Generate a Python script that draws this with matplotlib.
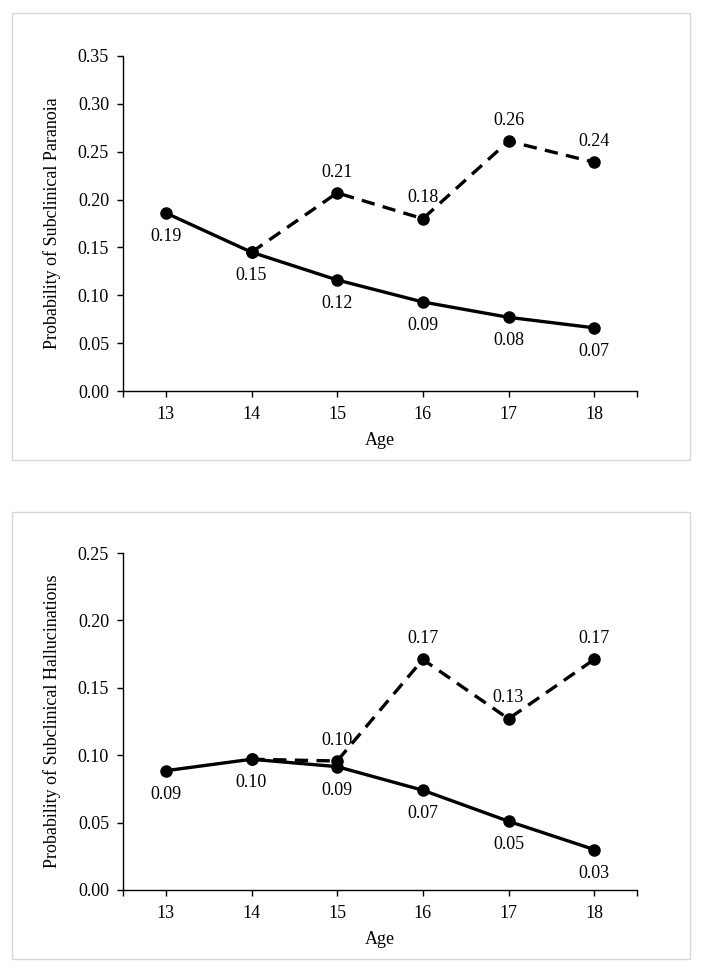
import numpy as np
import matplotlib
matplotlib.use('Agg')
import matplotlib.pyplot as plt
from matplotlib.patches import Rectangle

plt.rcParams['font.family'] = ['Liberation Serif', 'DejaVu Serif']

ages = [13, 14, 15, 16, 17, 18]

# Panel 1 - paranoia
par_solid = [0.186, 0.145, 0.116, 0.093, 0.077, 0.066]
par_solid_lab = ['0.19', '0.15', '0.12', '0.09', '0.08', '0.07']
par_dash_ages = [14, 15, 16, 17, 18]
par_dash = [0.145, 0.207, 0.180, 0.261, 0.239]
par_dash_lab = ['', '0.21', '0.18', '0.26', '0.24']

# Panel 2 - hallucinations
hal_solid = [0.0885, 0.097, 0.0915, 0.074, 0.051, 0.030]
hal_solid_lab = ['0.09', '0.10', '0.09', '0.07', '0.05', '0.03']
hal_dash_ages = [14, 15, 16, 17, 18]
hal_dash = [0.097, 0.0957, 0.171, 0.127, 0.171]
hal_dash_lab = ['', '0.10', '0.17', '0.13', '0.17']

W, H = 704, 973
fig = plt.figure(figsize=(W/100, H/100), dpi=100)

# panel frames
for y0 in [13, 512]:
    fig.patches.append(Rectangle((12/W, 1 - (y0+447)/H), 678/W, 447/H,
                                 transform=fig.transFigure, fill=False,
                                 edgecolor='#d9d9d9', linewidth=1.0))

def panel(ax, solid, solid_lab, dash_x, dash, dash_lab, ymax, ylabel):
    ax.plot(dash_x, dash, color='black', lw=2.4, dashes=(4, 2.5),
            marker='o', ms=8, zorder=3)
    ax.plot(ages, solid, color='black', lw=2.4, marker='o', ms=8, zorder=4)
    for x, v, t in zip(ages, solid, solid_lab):
        ax.annotate(t, (x, v), xytext=(0, -17), textcoords='offset points',
                    ha='center', va='center', fontsize=13)
    for x, v, t in zip(dash_x, dash, dash_lab):
        if t:
            ax.annotate(t, (x, v), xytext=(0, 15), textcoords='offset points',
                        ha='center', va='center', fontsize=13)
    ax.set_xlim(12.5, 18.5)
    ax.set_ylim(0, ymax)
    ax.set_xticks(ages)
    ax.set_xticks([12.5, 18.5], minor=True)
    ax.set_yticks(np.arange(0, ymax + 0.001, 0.05))
    ax.set_yticklabels(['%.2f' % v for v in np.arange(0, ymax + 0.001, 0.05)])
    ax.tick_params(axis='both', which='both', direction='out', length=4,
                   width=1, labelsize=13, color='black')
    ax.tick_params(axis='y', pad=6)
    ax.tick_params(axis='x', pad=7)
    for s in ['top', 'right']:
        ax.spines[s].set_visible(False)
    for s in ['left', 'bottom']:
        ax.spines[s].set_linewidth(1.0)
    ax.set_xlabel('Age', fontsize=13, labelpad=6)
    ax.set_ylabel(ylabel, fontsize=13, labelpad=12)

ax1 = fig.add_axes([123/W, 1 - 391/H, 514/W, 335/H])
panel(ax1, par_solid, par_solid_lab, par_dash_ages, par_dash, par_dash_lab,
      0.35, 'Probability of Subclinical Paranoia')

ax2 = fig.add_axes([123/W, 1 - 890/H, 514/W, 337/H])
panel(ax2, hal_solid, hal_solid_lab, hal_dash_ages, hal_dash, hal_dash_lab,
      0.25, 'Probability of Subclinical Hallucinations')

fig.savefig('out.png', dpi=100)
